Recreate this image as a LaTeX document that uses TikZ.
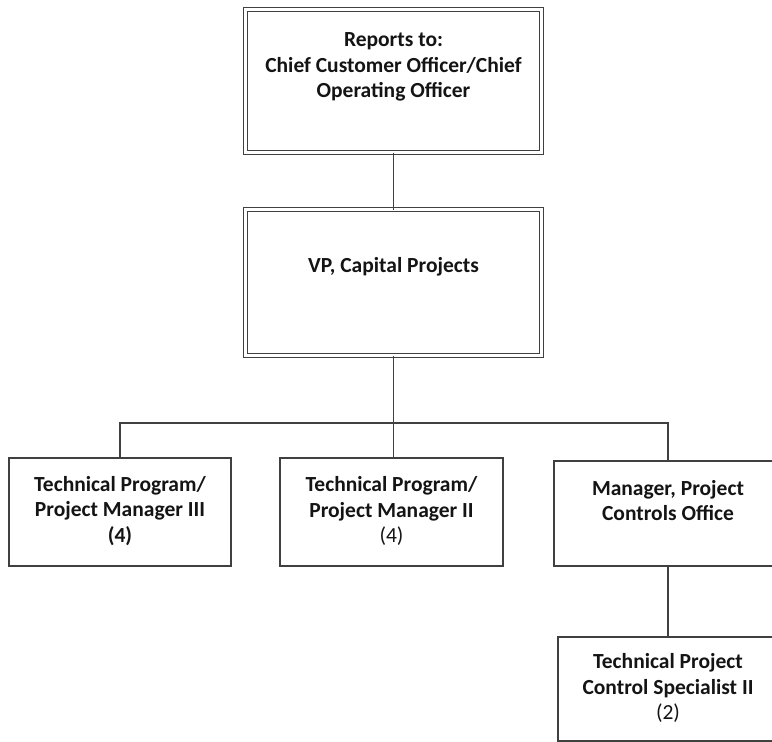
\documentclass[tikz,border=0pt]{standalone}
\usepackage{fontspec}
\setmainfont{Carlito}
\definecolor{boxline}{HTML}{404040}
\definecolor{txt}{HTML}{141414}
\begin{document}
\begin{tikzpicture}[x=1pt,y=-1pt,
  dbox/.style={draw=boxline, double=white, double distance=3pt, line width=1pt, minimum width=#1, inner sep=0pt, outer sep=0pt},
  sbox/.style={draw=boxline, line width=1.3pt, inner sep=0pt, outer sep=0pt},
  lbl/.style={align=center, text=txt, font=\fontsize{21.5}{25.5}\selectfont\bfseries, inner sep=0pt},
  conn/.style={draw=boxline, line width=1.5pt}]
\clip (0,0) rectangle (772,742);
\fill[white] (0,0) rectangle (772,742);
% boxes
\node[dbox=296pt, minimum height=143pt] (top) at (393.5,81) {};
\node[dbox=296pt, minimum height=146pt] (vp) at (393.5,282.5) {};
\node[sbox, minimum width=222pt, minimum height=108pt] (tpm3) at (120,512) {};
\node[sbox, minimum width=223pt, minimum height=108pt] (tpm2) at (391.5,512) {};
\node[sbox, minimum width=228pt, minimum height=105pt] (mgr) at (668,513.5) {};
\node[sbox, minimum width=220pt, minimum height=104pt] (spec) at (668,689) {};
% texts
\node[lbl] (toptxt) at (393.5,67) {Reports to:\\Chief Customer Officer/Chief\\Operating Officer};
\node[lbl] (vptxt) at (393.5,267) {VP, Capital Projects};
\node[lbl] (tpm3txt) at (120,511) {Technical Program/\\Project Manager III\\(4)};
\node[lbl] (tpm2txt) at (391.5,511) {Technical Program/\\Project Manager II\\\mdseries(4)};
\node[lbl] (mgrtxt) at (668,500.5) {Manager, Project\\Controls Office};
\node[lbl] (spectxt) at (668,688) {Technical Project\\Control Specialist II\\\mdseries(2)};
% connectors
\coordinate (bus) at (393.5,423);
\draw[conn] (top.south) -- (vp.north);
\draw[conn] (vp.south) -- (vp.south |- tpm2.north);
\draw[conn] (tpm3.north) |- (bus) -| (mgr.north);
\draw[conn] (mgr.south) -- (spec.north);
\end{tikzpicture}
\end{document}
